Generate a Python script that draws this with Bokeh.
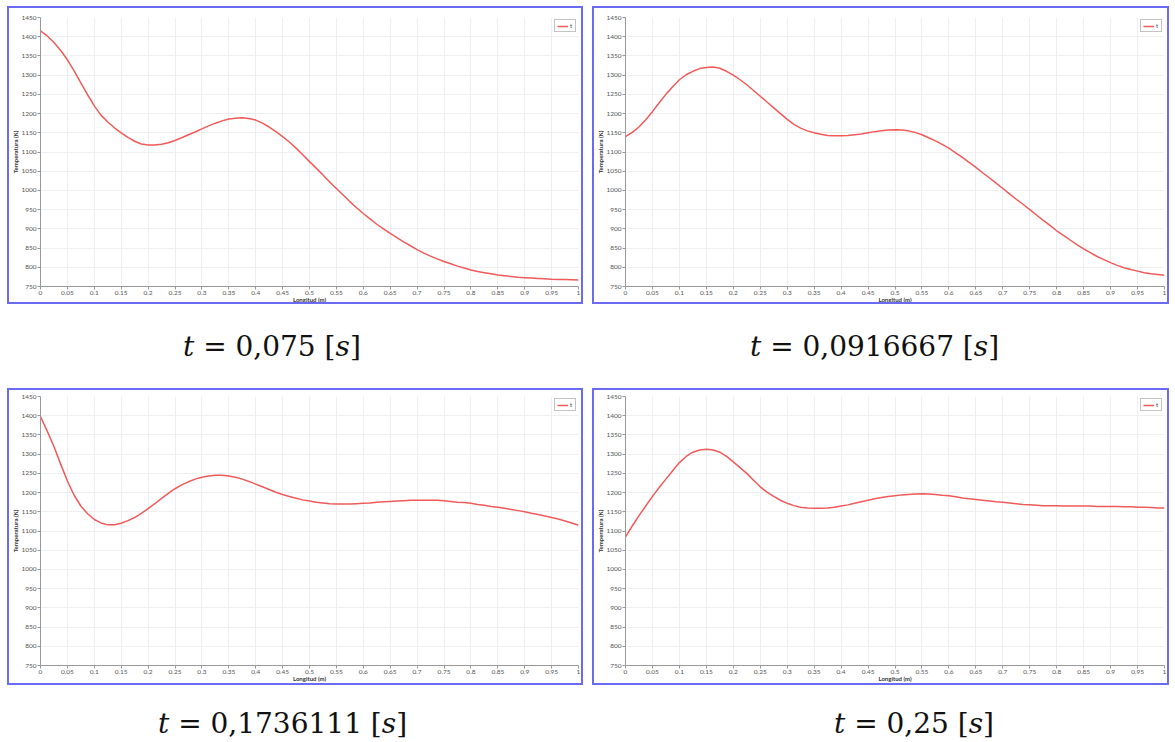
from bokeh.plotting import figure
from bokeh.models import Range1d, FixedTicker, Div, Spacer
from bokeh.layouts import row, column
from bokeh.embed import file_html
from bokeh.resources import INLINE

# Longitud (m)
x = [0, 0.0125, 0.025, 0.0375, 0.05, 0.0625, 0.075, 0.0875, 0.1, 0.1125,
     0.125, 0.1375, 0.15, 0.1625, 0.175, 0.1875, 0.2, 0.2125, 0.225, 0.2375,
     0.25, 0.2625, 0.275, 0.2875, 0.3, 0.3125, 0.325, 0.3375, 0.35, 0.3625,
     0.375, 0.3875, 0.4, 0.4125, 0.425, 0.4375, 0.45, 0.4625, 0.475, 0.4875,
     0.5, 0.5125, 0.525, 0.5375, 0.55, 0.5625, 0.575, 0.5875, 0.6, 0.6125,
     0.625, 0.6375, 0.65, 0.6625, 0.675, 0.6875, 0.7, 0.7125, 0.725, 0.7375,
     0.75, 0.7625, 0.775, 0.7875, 0.8, 0.8125, 0.825, 0.8375, 0.85, 0.8625,
     0.875, 0.8875, 0.9, 0.9125, 0.925, 0.9375, 0.95, 0.9625, 0.975, 0.9875, 1.0]

# Temperatura (K) at each time
T_0075 = [1415, 1402, 1385, 1364, 1340, 1311, 1280, 1249, 1220, 1196,
          1178, 1163, 1150, 1138, 1128, 1121, 1118, 1118, 1120, 1124,
          1130, 1137, 1145, 1152, 1160, 1168, 1175, 1181, 1186, 1188,
          1189, 1187, 1183, 1175, 1165, 1153, 1140, 1126, 1110, 1093,
          1075, 1058, 1040, 1022, 1005, 988, 971, 955, 940, 926,
          912, 900, 888, 877, 866, 856, 846, 837, 829, 822,
          815, 809, 803, 798, 793, 789, 786, 783, 780, 778,
          776, 774, 773, 772, 771, 770, 769, 768.5, 768, 767.5, 767]
T_0916667 = [1140, 1151, 1165, 1184, 1205, 1228, 1250, 1270, 1288, 1301,
             1310, 1317, 1320, 1321, 1318, 1310, 1300, 1288, 1275, 1260,
             1245, 1230, 1215, 1200, 1185, 1172, 1162, 1155, 1150, 1146,
             1143, 1142, 1142, 1143, 1145, 1147, 1150, 1153, 1155, 1157,
             1158, 1157, 1155, 1151, 1145, 1137, 1129, 1120, 1110, 1098,
             1086, 1073, 1060, 1046, 1033, 1019, 1005, 991, 977, 964,
             950, 936, 922, 909, 895, 883, 871, 859, 848, 838,
             828, 820, 812, 805, 799, 794, 790, 786, 783, 781, 779]
T_1736111 = [1398, 1360, 1320, 1274, 1230, 1193, 1165, 1145, 1130, 1121,
             1116, 1116, 1120, 1127, 1135, 1146, 1158, 1171, 1185, 1198,
             1210, 1220, 1228, 1235, 1240, 1243, 1245, 1245, 1243, 1240,
             1235, 1229, 1222, 1215, 1208, 1201, 1195, 1190, 1185, 1181,
             1178, 1175, 1173, 1171, 1170, 1170, 1170, 1171, 1172, 1173,
             1175, 1176, 1177, 1178, 1179, 1180, 1180, 1180, 1180, 1180,
             1179, 1177, 1175, 1174, 1172, 1169, 1167, 1164, 1162, 1159,
             1156, 1153, 1150, 1146, 1143, 1139, 1135, 1131, 1126, 1121, 1115]
T_025 = [1085, 1113, 1140, 1165, 1190, 1213, 1235, 1257, 1278, 1294,
         1305, 1311, 1313, 1311, 1305, 1294, 1280, 1265, 1250, 1232,
         1215, 1201, 1190, 1180, 1172, 1166, 1162, 1160, 1159, 1159,
         1160, 1162, 1165, 1168, 1172, 1176, 1180, 1184, 1187, 1190,
         1192, 1194, 1195, 1196, 1197, 1196, 1195, 1193, 1192, 1189,
         1186, 1184, 1182, 1180, 1178, 1176, 1175, 1173, 1171, 1169,
         1168, 1167, 1166, 1166, 1166, 1165, 1165, 1165, 1165, 1165,
         1164, 1164, 1164, 1164, 1163, 1163, 1162, 1162, 1161, 1160, 1160]

captions = ["0,075", "0,0916667", "0,1736111", "0,25"]

x_ticks = [0, 0.05, 0.1, 0.15, 0.2, 0.25, 0.3, 0.35, 0.4, 0.45, 0.5,
           0.55, 0.6, 0.65, 0.7, 0.75, 0.8, 0.85, 0.9, 0.95, 1]
y_ticks = [750, 800, 850, 900, 950, 1000, 1050, 1100, 1150, 1200,
           1250, 1300, 1350, 1400, 1450]

FONT = "Lato"
BORDER = "2px solid #6a6af2"


def make_panel(T, w, h, left, right, top, bottom):
    p = figure(width=w, height=h, x_range=Range1d(0, 1), y_range=Range1d(750, 1450),
               output_backend="svg", toolbar_location=None,
               min_border_left=left, min_border_right=right,
               min_border_top=top, min_border_bottom=bottom,
               background_fill_color="white", border_fill_color="white",
               styles={"border": BORDER, "box-sizing": "border-box"})
    p.outline_line_color = None
    p.line(x, T, line_color="#f05a5a", line_width=1.5, legend_label="t")

    for ax in (p.xaxis, p.yaxis):
        ax.major_label_text_font = FONT
        ax.major_label_text_font_size = "6.5px"
        ax.major_label_text_color = "#555555"
        ax.axis_line_color = "#999999"
        ax.major_tick_line_color = "#999999"
        ax.major_tick_out = 3
        ax.major_tick_in = 0
        ax.minor_tick_line_color = None
        ax.axis_label_text_font = FONT
        ax.axis_label_text_font_size = "6px"
        ax.axis_label_text_font_style = "bold"
        ax.axis_label_text_color = "#333333"
        ax.major_label_standoff = 1
    p.yaxis.axis_label_standoff = -1
    p.xaxis.axis_label_standoff = -2
    p.xaxis.ticker = FixedTicker(ticks=x_ticks)
    p.xaxis.major_label_overrides = {t: f"{t:g}" for t in x_ticks}
    p.yaxis.ticker = FixedTicker(ticks=y_ticks)
    p.xaxis.axis_label = "Longitud (m)"
    p.yaxis.axis_label = "Temperatura (K)"

    p.xgrid.ticker = FixedTicker(ticks=x_ticks)
    p.ygrid.ticker = FixedTicker(ticks=y_ticks)
    p.grid.grid_line_color = "#efefef"
    p.grid.grid_line_width = 1

    lg = p.legend[0]
    lg.location = "top_right"
    lg.margin = 2
    lg.padding = 2
    lg.spacing = 0
    lg.glyph_width = 11
    lg.glyph_height = 6
    lg.label_height = 6
    lg.label_width = 3
    lg.label_text_font = FONT
    lg.label_text_font_size = "6px"
    lg.label_standoff = 2
    lg.border_line_color = "#888888"
    lg.border_line_width = 1.5
    lg.background_fill_alpha = 1
    return p


def caption(num, w, h, pad_left, pad_top):
    html = (f'<div style="font-family:\'DejaVu Serif\';font-size:28px;color:#111;'
            f'padding-left:{pad_left}px;padding-top:{pad_top}px;white-space:nowrap">'
            f'<i>t</i> = {num} [<i>s</i>]</div>')
    return Div(text=html, width=w, height=h, margin=0)


p1 = make_panel(T_0075, 576, 298, 26, 7, 9, 20)
p2 = make_panel(T_0916667, 577, 298, 26, 7, 9, 20)
p3 = make_panel(T_1736111, 576, 297, 26, 7, 6, 22)
p4 = make_panel(T_025, 577, 297, 26, 7, 6, 22)

c1 = caption(captions[0], 576, 84, 176, 23)
c2 = caption(captions[1], 577, 84, 158, 23)
c3 = caption(captions[2], 576, 48, 151, 19)
c4 = caption(captions[3], 577, 48, 242, 19)

grid = column(
    row(p1, p2, spacing=9),
    row(c1, c2, spacing=9),
    row(p3, p4, spacing=9),
    row(c3, c4, spacing=9),
    spacing=0,
)
layout = column(Spacer(height=6), row(Spacer(width=7), grid, spacing=0), spacing=0)

open("out.html", "w").write(file_html(layout, INLINE))
